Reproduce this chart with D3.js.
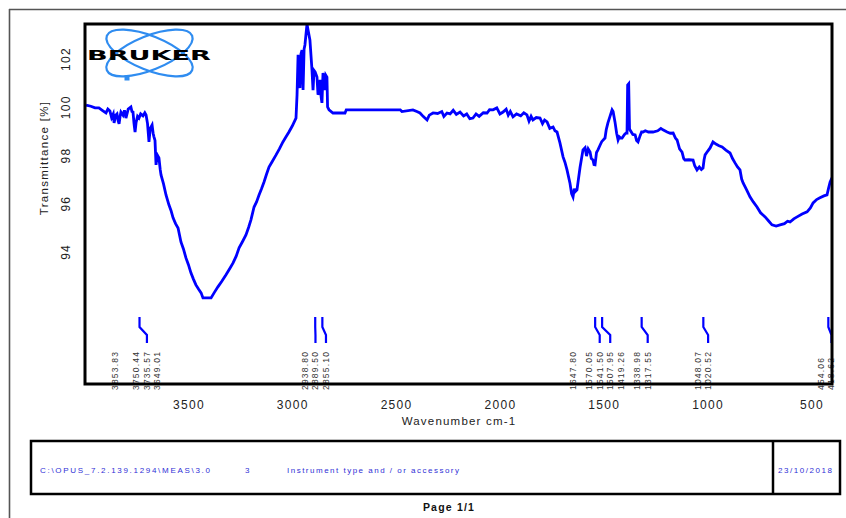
<!DOCTYPE html>
<html>
<head>
<meta charset="utf-8">
<script src="https://cdn.jsdelivr.net/npm/d3@7"></script>
<style>
  html, body { margin: 0; padding: 0; background: #fff; }
  svg { display: block; font-family: "Liberation Sans", Arial, sans-serif; }
</style>
</head>
<body>
<svg id="chart" width="846" height="518"></svg>
<script>
// IR transmittance spectrum: [wavenumber cm-1, transmittance %]
const spectrum = [
  [3993,100.07],[3970,100.02],[3950,99.95],[3931,99.95],[3915,99.85],[3897,99.74],[3888,99.90],[3878,99.82],
  [3870,99.55],[3862,99.70],[3858,99.33],[3850,99.65],[3844,99.70],[3838,99.40],[3834,99.29],[3829,99.60],
  [3825,99.78],[3815,99.65],[3808,99.85],[3801,99.53],[3790,99.90],[3777,99.99],[3772,99.80],[3767,99.78],
  [3762,99.30],[3757,98.95],[3752,99.35],[3745,99.60],[3738,99.53],[3730,99.70],[3719,99.62],[3710,99.75],
  [3704,99.66],[3697,99.30],[3690,98.54],[3684,99.10],[3675,99.24],[3670,98.90],[3666,98.75],[3661,98.60],
  [3656,97.59],[3650,98.00],[3642,97.88],[3636,97.40],[3632,97.17],[3620,96.80],[3608,96.34],[3594,95.93],
  [3584,95.70],[3574,95.39],[3562,95.15],[3550,94.97],[3536,94.39],[3524,94.10],[3512,93.73],[3500,93.45],
  [3488,93.11],[3476,92.85],[3464,92.61],[3450,92.42],[3439,92.28],[3430,92.07],[3391,92.07],[3375,92.30],
  [3358,92.53],[3340,92.75],[3319,93.03],[3300,93.30],[3285,93.52],[3270,93.80],[3256,94.15],[3240,94.40],
  [3223,94.68],[3210,95.00],[3199,95.31],[3184,95.84],[3172,96.05],[3160,96.34],[3148,96.60],[3136,96.88],
  [3124,97.20],[3112,97.50],[3095,97.75],[3078,98.00],[3062,98.25],[3045,98.54],[3030,98.75],[3016,98.95],
  [3000,99.20],[2982,99.53],[2977,100.49],[2972,102.15],[2968,100.90],[2963,100.78],[2958,102.20],[2953,102.35],
  [2948,100.69],[2943,102.40],[2939,102.56],[2929,103.43],[2924,103.18],[2915,102.77],[2905,101.52],[2900,100.69],
  [2895,101.50],[2890,101.44],[2881,101.23],[2876,100.50],[2871,100.61],[2866,101.11],[2861,100.40],[2857,100.16],
  [2852,101.40],[2842,100.69],[2838,101.30],[2833,101.23],[2830,99.99],[2823,99.87],[2804,99.74],[2746,99.74],
  [2740,99.87],[2480,99.87],[2472,99.80],[2419,99.87],[2400,99.80],[2385,99.74],[2370,99.60],[2351,99.45],
  [2340,99.65],[2322,99.74],[2300,99.72],[2280,99.80],[2270,99.60],[2255,99.74],[2240,99.70],[2225,99.85],
  [2210,99.68],[2192,99.78],[2175,99.62],[2160,99.70],[2145,99.50],[2130,99.53],[2115,99.70],[2100,99.60],
  [2080,99.75],[2062,99.74],[2050,99.88],[2033,99.87],[2015,99.95],[2000,99.70],[1985,99.78],[1970,99.90],
  [1960,99.65],[1950,99.80],[1937,99.58],[1920,99.70],[1900,99.62],[1885,99.75],[1870,99.66],[1860,99.40],
  [1850,99.60],[1841,99.45],[1825,99.55],[1807,99.53],[1795,99.30],[1785,99.45],[1773,99.37],[1760,99.10],
  [1744,99.16],[1735,99.00],[1725,98.95],[1711,98.50],[1696,97.92],[1687,97.70],[1677,97.38],[1663,96.84],
  [1655,96.40],[1648,96.26],[1642,96.60],[1638,96.47],[1629,96.55],[1614,97.50],[1600,98.21],[1590,98.30],
  [1583,97.95],[1575,98.25],[1566,98.12],[1560,97.85],[1552,97.79],[1547,97.60],[1542,97.59],[1535,98.10],
  [1528,98.21],[1518,98.40],[1510,98.55],[1494,98.70],[1488,99.05],[1480,99.33],[1470,99.60],[1460,99.87],
  [1455,99.80],[1446,99.37],[1438,98.90],[1431,98.62],[1425,98.75],[1419,98.70],[1412,98.70],[1400,98.85],
  [1392,98.91],[1388,98.91],[1385,100.90],[1380,100.95],[1376,99.10],[1374,99.04],[1360,98.85],[1349,98.83],
  [1342,98.60],[1335,98.54],[1325,98.80],[1318,98.95],[1311,98.95],[1300,99.00],[1285,98.95],[1263,98.95],
  [1240,99.00],[1225,99.10],[1215,99.04],[1195,98.95],[1180,98.90],[1166,98.91],[1155,98.70],[1147,98.62],
  [1135,98.25],[1123,98.12],[1115,97.85],[1109,97.79],[1090,97.80],[1070,97.79],[1062,97.55],[1051,97.38],
  [1040,97.50],[1030,97.40],[1022,97.46],[1017,97.80],[1012,98.00],[1000,98.15],[988,98.29],[974,98.54],
  [960,98.45],[945,98.38],[930,98.33],[912,98.20],[892,98.08],[880,97.85],[868,97.67],[856,97.50],
  [844,97.38],[836,97.00],[829,96.84],[812,96.55],[796,96.26],[780,96.05],[762,95.84],[745,95.60],
  [723,95.43],[705,95.25],[690,95.10],[670,95.05],[651,95.10],[630,95.15],[615,95.25],[603,95.22],
  [585,95.35],[569,95.43],[545,95.55],[521,95.64],[505,95.80],[492,96.01],[475,96.15],[459,96.22],
  [440,96.30],[425,96.34],[418,96.60],[410,96.88],[401,97.05]
];

// Picked peak positions (cm-1)
const peakWavenumbers = [3853.83, 3750.44, 3735.57, 3649.01, 2938.80, 2889.50, 2855.10,
  1647.80, 1570.05, 1541.50, 1507.95, 1419.26, 1338.98, 1317.55, 1048.07, 1020.52, 454.06, 418.62];

const xTickValues = [3500, 3000, 2500, 2000, 1500, 1000, 500];
const yTickValues = [94, 96, 98, 100, 102];
const xDomain = [4000, 400];
const yDomain = [88.5, 103.43];

const footerPath = "C:\\OPUS_7.2.139.1294\\MEAS\\3.0";
const footerSample = "3";
const footerInstrument = "Instrument type and / or accessory";
const footerDate = "23/10/2018";

const svg = d3.select("#chart");
const plot = { left: 85, right: 832, top: 24, bottom: 384 };

const x = d3.scaleLinear().domain(xDomain).range([84.6, 832.2]);
const y = d3.scaleLinear().domain(yDomain).range([plot.bottom, plot.top]);

// page border
svg.append("line").attr("x1", 9).attr("x2", 846).attr("y1", 9.5).attr("y2", 9.5)
  .attr("stroke", "#555").attr("stroke-width", 1.6);
svg.append("line").attr("x1", 9.5).attr("x2", 9.5).attr("y1", 9).attr("y2", 518)
  .attr("stroke", "#555").attr("stroke-width", 1.6);

// logo
const logo = svg.append("g");
[-22, 22].forEach(a => {
  logo.append("ellipse").attr("cx", 149.5).attr("cy", 53).attr("rx", 46).attr("ry", 17)
    .attr("transform", `rotate(${a},149.5,53)`)
    .attr("fill", "none").attr("stroke", "#2f8cf0").attr("stroke-width", 2.2);
});
logo.append("rect").attr("x", 124.5).attr("y", 75.5).attr("width", 5).attr("height", 5).attr("fill", "#2f8cf0");
logo.append("text").attr("x", 87).attr("y", 59.5).text("BRUKER")
  .attr("font-family", "DejaVu Sans").attr("font-weight", "bold").attr("font-size", 14.5)
  .attr("textLength", 124).attr("lengthAdjust", "spacingAndGlyphs").attr("fill", "#000");

// clip region for the trace
svg.append("clipPath").attr("id", "plotClip").append("rect")
  .attr("x", plot.left).attr("y", plot.top)
  .attr("width", plot.right - plot.left).attr("height", plot.bottom - plot.top);

const line = d3.line().x(d => x(d[0])).y(d => y(d[1]));
svg.append("path").datum(spectrum).attr("d", line)
  .attr("clip-path", "url(#plotClip)")
  .attr("fill", "none").attr("stroke", "#0000ff").attr("stroke-width", 2.8)
  .attr("stroke-linejoin", "miter");

// peak labels: pushed right when crowded, with a bent leader where shifted
const fmt = d3.format(".2f");
const minGap = 10.5;
let prevX = -Infinity;
const peaks = peakWavenumbers.map(w => {
  const px = x(w);
  const lx = Math.max(px, prevX + minGap);
  prevX = lx;
  return { w, px, lx };
});
const peakG = svg.append("g");
peaks.filter(p => p.lx - p.px > 0.2).forEach(p => {
  peakG.append("path")
    .attr("d", `M${p.px},317 L${p.px},327 L${p.lx},335 L${p.lx},343`)
    .attr("fill", "none").attr("stroke", "#0000ff").attr("stroke-width", 2.2);
});
peakG.selectAll("text.peak").data(peaks).join("text").attr("class", "peak")
  .attr("transform", p => `translate(${p.lx},390) rotate(-90)`)
  .attr("dy", "0.35em").attr("font-size", 8.5).attr("letter-spacing", 1.2)
  .attr("fill", "#333").text(p => fmt(p.w));

// plot frame
svg.append("rect").attr("x", plot.left).attr("y", plot.top)
  .attr("width", plot.right - plot.left).attr("height", plot.bottom - plot.top)
  .attr("fill", "none").attr("stroke", "#000").attr("stroke-width", 3);

// x axis
const xAxis = svg.append("g").attr("transform", `translate(0,${plot.bottom})`)
  .call(d3.axisBottom(x).tickValues(xTickValues).tickSize(0).tickPadding(16).tickFormat(d3.format("d")));
xAxis.select(".domain").remove();
xAxis.selectAll("text").attr("font-size", 12).attr("letter-spacing", 1.3)
  .attr("fill", "#222").attr("font-family", "Liberation Sans, Arial, sans-serif");

// y axis (rotated labels)
const yAxis = svg.append("g").attr("transform", `translate(${plot.left},0)`)
  .call(d3.axisLeft(y).tickValues(yTickValues).tickSize(0).tickFormat(d3.format("d")));
yAxis.select(".domain").remove();
yAxis.selectAll("text").attr("x", 0).attr("dy", "0.35em").attr("text-anchor", "middle")
  .attr("transform", "translate(-19,0) rotate(-90)")
  .attr("font-size", 12).attr("letter-spacing", 1.3)
  .attr("fill", "#222").attr("font-family", "Liberation Sans, Arial, sans-serif");

// axis titles
svg.append("text").attr("x", 459).attr("y", 425).attr("text-anchor", "middle")
  .attr("font-size", 11.5).attr("letter-spacing", 1.2).attr("fill", "#222")
  .text("Wavenumber cm-1");
svg.append("text").attr("transform", "translate(44,158) rotate(-90)")
  .attr("dy", "0.35em").attr("text-anchor", "middle")
  .attr("font-size", 11.5).attr("letter-spacing", 1.3).attr("fill", "#222")
  .text("Transmittance [%]");

// footer info box
svg.append("rect").attr("x", 31).attr("y", 441).attr("width", 809).attr("height", 53)
  .attr("fill", "none").attr("stroke", "#000").attr("stroke-width", 2.5);
svg.append("line").attr("x1", 773).attr("x2", 773).attr("y1", 441).attr("y2", 494)
  .attr("stroke", "#000").attr("stroke-width", 2.5);
const footerStyle = t => t.attr("font-size", 8).attr("fill", "#2f2fd6").attr("y", 472.5);
svg.append("text").call(footerStyle).attr("x", 40).attr("textLength", 170)
  .attr("lengthAdjust", "spacing").text(footerPath);
svg.append("text").call(footerStyle).attr("x", 245).text(footerSample);
svg.append("text").call(footerStyle).attr("x", 287).attr("textLength", 172)
  .attr("lengthAdjust", "spacing").text(footerInstrument);
svg.append("text").call(footerStyle).attr("x", 778).attr("textLength", 54)
  .attr("lengthAdjust", "spacing").text(footerDate);

svg.append("text").attr("x", 449).attr("y", 511).attr("text-anchor", "middle")
  .attr("font-size", 10.5).attr("font-weight", "bold").attr("letter-spacing", 1.2)
  .attr("fill", "#111").text("Page 1/1");
</script>
</body>
</html>
